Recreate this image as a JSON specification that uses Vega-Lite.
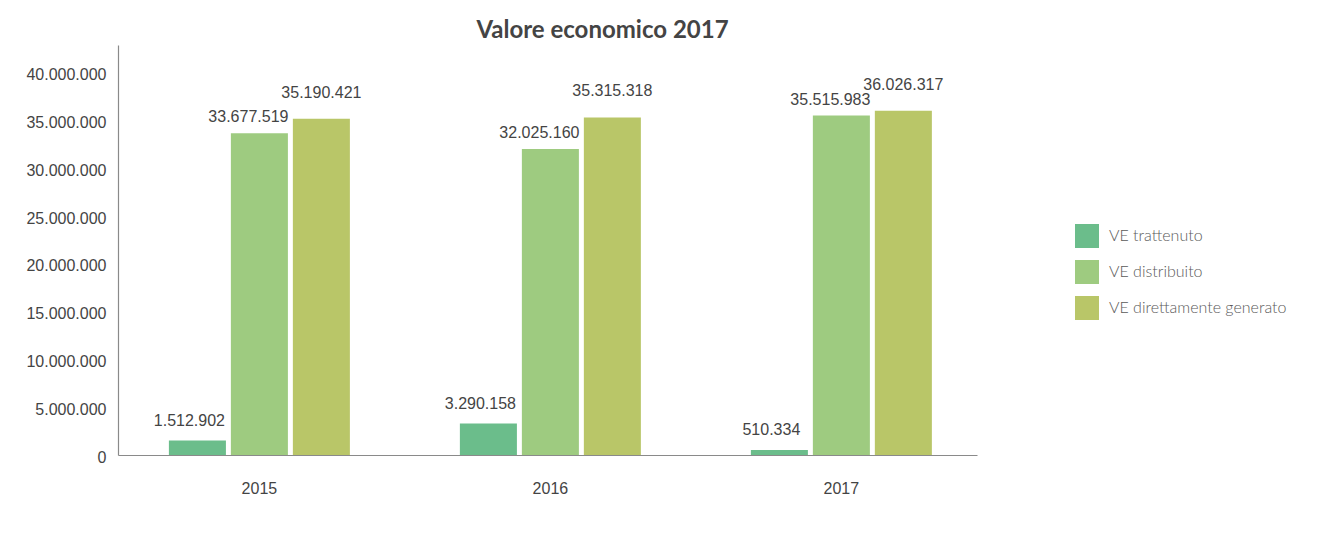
{
  "$schema": "https://vega.github.io/schema/vega-lite/v6.json",
  "width": 859,
  "height": 410,
  "autosize": {"type": "none"},
  "padding": {"left": 118, "top": 45, "right": 342, "bottom": 87},
  "background": "white",
  "title": {
    "text": "Valore economico 2017",
    "anchor": "middle",
    "dx": 55,
    "offset": 2,
    "font": "Lato",
    "fontSize": 24,
    "fontWeight": "bold",
    "color": "#444444"
  },
  "config": {
    "view": {"stroke": null},
    "locale": {"number": {"decimal": ",", "thousands": ".", "grouping": [3], "currency": ["€", ""]}},
    "axis": {"labelFont": "Liberation Sans", "labelFontSize": 16, "labelColor": "#444444", "domainColor": "#8a8a8a", "ticks": false, "grid": false, "title": null}
  },
  "data": {
    "values": [
      {"anno": "2015", "voce": "VE trattenuto", "valore": 1512902},
      {"anno": "2015", "voce": "VE distribuito", "valore": 33677519},
      {"anno": "2015", "voce": "VE direttamente generato", "valore": 35190421},
      {"anno": "2016", "voce": "VE trattenuto", "valore": 3290158},
      {"anno": "2016", "voce": "VE distribuito", "valore": 32025160},
      {"anno": "2016", "voce": "VE direttamente generato", "valore": 35315318},
      {"anno": "2017", "voce": "VE trattenuto", "valore": 510334},
      {"anno": "2017", "voce": "VE distribuito", "valore": 35515983},
      {"anno": "2017", "voce": "VE direttamente generato", "valore": 36026317}
    ]
  },
  "encoding": {
    "x": {
      "field": "anno",
      "type": "nominal",
      "scale": {"paddingInner": 0.378, "paddingOuter": 0.165, "align": 0.53},
      "axis": {"labelAngle": 0, "labelPadding": 25, "domainWidth": 1.2}
    },
    "xOffset": {
      "field": "voce",
      "type": "nominal",
      "sort": ["VE trattenuto", "VE distribuito", "VE direttamente generato"],
      "scale": {"domain": ["VE trattenuto", "VE distribuito", "VE direttamente generato"], "paddingInner": 0.08, "paddingOuter": 0}
    },
    "y": {
      "field": "valore",
      "type": "quantitative",
      "scale": {"domain": [0, 42900000], "nice": false, "zero": true},
      "axis": {"values": [0, 5000000, 10000000, 15000000, 20000000, 25000000, 30000000, 35000000, 40000000], "format": ",d", "labelPadding": 12, "labelOffset": 2, "domainWidth": 1.2}
    }
  },
  "layer": [
    {
      "mark": {"type": "bar"},
      "encoding": {
        "color": {
          "field": "voce",
          "type": "nominal",
          "sort": ["VE trattenuto", "VE distribuito", "VE direttamente generato"],
          "scale": {"domain": ["VE trattenuto", "VE distribuito", "VE direttamente generato"], "range": ["#6bbd8b", "#9ecb80", "#b9c668"]},
          "legend": {
            "title": null,
            "orient": "none",
            "legendX": 957,
            "legendY": 179,
            "symbolType": "square",
            "symbolSize": 576,
            "symbolStrokeWidth": 0,
            "rowPadding": 12,
            "labelOffset": 10,
            "labelFont": "Lato",
            "labelFontWeight": 300,
            "labelFontSize": 16,
            "labelColor": "#5a5a5a",
            "labelLimit": 300
          }
        }
      }
    },
    {
      "transform": [{"filter": "datum.voce === 'VE trattenuto'"}],
      "mark": {"type": "text", "baseline": "bottom", "dy": -12, "dx": -8, "font": "Liberation Sans", "fontSize": 16, "color": "#444444"},
      "encoding": {
        "text": {"field": "valore", "type": "quantitative", "format": ",d"}
      }
    },
    {
      "transform": [{"filter": "datum.voce === 'VE distribuito'"}],
      "mark": {"type": "text", "baseline": "bottom", "dy": -8, "dx": -11, "font": "Liberation Sans", "fontSize": 16, "color": "#444444"},
      "encoding": {
        "text": {"field": "valore", "type": "quantitative", "format": ",d"}
      }
    },
    {
      "transform": [{"filter": "datum.voce === 'VE direttamente generato'"}],
      "mark": {"type": "text", "baseline": "bottom", "dy": -18, "font": "Liberation Sans", "fontSize": 16, "color": "#444444"},
      "encoding": {
        "text": {"field": "valore", "type": "quantitative", "format": ",d"}
      }
    }
  ]
}
